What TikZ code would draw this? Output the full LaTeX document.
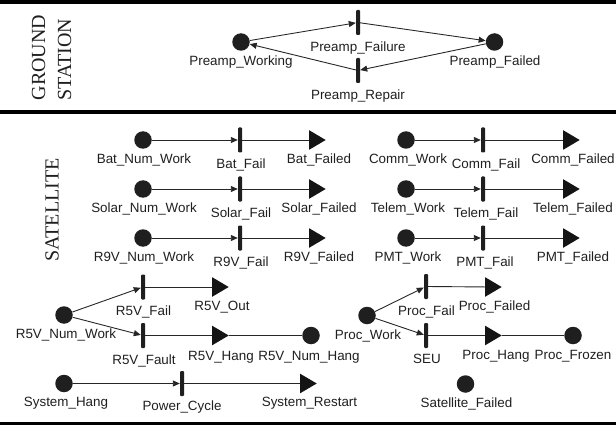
\documentclass[tikz,border=0pt]{standalone}
\usepackage{fontspec}
\setmainfont{Liberation Sans}
\newfontfamily\serifgs{Liberation Serif}
\usetikzlibrary{arrows.meta,shapes.geometric}
\begin{document}
\begin{tikzpicture}[x=1pt,y=-1pt,
  place/.style={circle,fill=black!88,inner sep=0,minimum size=17.5pt},
  trans/.style={rectangle,fill=black!88,inner sep=0,minimum width=4pt,minimum height=25pt,rounded corners=1pt},
  outp/.style={isosceles triangle,isosceles triangle stretches,fill=black!92,inner sep=0,minimum width=19.5pt,minimum height=16.5pt,anchor=west},
  lbl/.style={anchor=base,inner sep=0,font=\fontsize{13.4}{14}\selectfont,text=black!88},
  title/.style={anchor=base,inner sep=0,rotate=90,font=\serifgs\fontsize{20}{20}\selectfont,text=black!88},
  arc/.style={draw=black!85,line width=0.9pt},
  arr/.style={arc,-{Triangle[length=7pt,width=6pt]}},
  sep/.style={line width=4pt}]
\useasboundingbox (0,0) rectangle (616,425);
% separators
\draw[sep] (0,2) -- (616,2);
\draw[sep] (0,112.5) -- (616,112.5);
\draw[sep] (0,423.5) -- (616,423.5);
% titles
\node[title] (gs1) at (45,57.5) {GROUND};
\node[title] (gs2) at (71,59.5) {STATION};
\node[title] (sat) at (58.5,210) {SATELLITE};
% ground station
\node[place] (pw) at (241,42) {};
\node[place] (pfd) at (494.5,42) {};
\node[trans] (pfl) at (358,22.5) {};
\node[trans] (prp) at (358,70.5) {};
\draw[arr] (pw) -- (pfl);
\draw[arr] (pfl) -- (pfd);
\draw[arr] (pfd) -- (prp);
\draw[arr] (prp) -- (pw);
\node[lbl] (pwl) at (241,65.5) {Preamp\_Working};
\node[lbl] (pfll) at (358,51.5) {Preamp\_Failure};
\node[lbl] (prpl) at (358,99.5) {Preamp\_Repair};
\node[lbl] (pfdl) at (495,65.5) {Preamp\_Failed};
% row 1
\node[place] (bnw) at (143,140) {};
\node[trans] (bfl) at (240,140) {};
\node[outp] (bfd) at (309,140) {};
\draw[arr] (bnw) -- (bfl);
\draw[arc] (bfl) -- (bfd);
\node[lbl] (bnwl) at (144,163.5) {Bat\_Num\_Work};
\node[lbl] (bfll) at (241,168) {Bat\_Fail};
\node[lbl] (bfdl) at (319,163.5) {Bat\_Failed};
\node[place] (cw) at (406,140) {};
\node[trans] (cfl) at (483,140) {};
\node[outp] (cfd) at (563,140) {};
\draw[arr] (cw) -- (cfl);
\draw[arc] (cfl) -- (cfd);
\node[lbl] (cwl) at (408,163.5) {Comm\_Work};
\node[lbl] (cfll) at (486,168) {Comm\_Fail};
\node[lbl] (cfdl) at (573,163.5) {Comm\_Failed};
% row 2
\node[place] (snw) at (143,189) {};
\node[trans] (sfl) at (240,189) {};
\node[outp] (sfd) at (309,189) {};
\draw[arr] (snw) -- (sfl);
\draw[arc] (sfl) -- (sfd);
\node[lbl] (snwl) at (144,212.5) {Solar\_Num\_Work};
\node[lbl] (sfll) at (241,217) {Solar\_Fail};
\node[lbl] (sfdl) at (319,212.5) {Solar\_Failed};
\node[place] (tw) at (406,189) {};
\node[trans] (tfl) at (483,189) {};
\node[outp] (tfd) at (563,189) {};
\draw[arr] (tw) -- (tfl);
\draw[arc] (tfl) -- (tfd);
\node[lbl] (twl) at (408,212.5) {Telem\_Work};
\node[lbl] (tfll) at (486,217) {Telem\_Fail};
\node[lbl] (tfdl) at (573,212.5) {Telem\_Failed};
% row 3
\node[place] (rnw) at (143,238) {};
\node[trans] (rfl) at (240,238) {};
\node[outp] (rfd) at (309,238) {};
\draw[arr] (rnw) -- (rfl);
\draw[arc] (rfl) -- (rfd);
\node[lbl] (rnwl) at (144,261.5) {R9V\_Num\_Work};
\node[lbl] (rfll) at (241,266) {R9V\_Fail};
\node[lbl] (rfdl) at (319,261.5) {R9V\_Failed};
\node[place] (mw) at (406,238) {};
\node[trans] (mfl) at (483,238) {};
\node[outp] (mfd) at (563,238) {};
\draw[arr] (mw) -- (mfl);
\draw[arc] (mfl) -- (mfd);
\node[lbl] (mwl) at (408,261.5) {PMT\_Work};
\node[lbl] (mfll) at (485,266) {PMT\_Fail};
\node[lbl] (mfdl) at (573,261.5) {PMT\_Failed};
% R5V
\node[place] (r5w) at (64,315) {};
\node[trans] (r5f) at (143,287) {};
\node[trans] (r5t) at (143,335.5) {};
\node[outp] (r5o) at (212,287) {};
\node[outp] (r5h) at (212,335.5) {};
\node[place] (r5nh) at (311,335.5) {};
\draw[arr] (r5w) -- (r5f);
\draw[arr] (r5w) -- (r5t);
\draw[arc] (r5f) -- (r5o);
\draw[arc] (r5t) -- (r5h);
\draw[arc] (r5h) -- (r5nh);
\node[lbl] (r5fl) at (143.5,315) {R5V\_Fail};
\node[lbl] (r5ol) at (222,310.5) {R5V\_Out};
\node[lbl] (r5wl) at (66,338.5) {R5V\_Num\_Work};
\node[lbl] (r5tl) at (144,364) {R5V\_Fault};
\node[lbl] (r5hl) at (221,360) {R5V\_Hang};
\node[lbl] (r5nhl) at (309,360) {R5V\_Num\_Hang};
% system
\node[place] (sh) at (64,383.5) {};
\node[trans] (pc) at (182,383.5) {};
\node[outp] (sr) at (300,383.5) {};
\draw[arr] (sh) -- (pc);
\draw[arc] (pc) -- (sr);
\node[lbl] (shl) at (66,406.5) {System\_Hang};
\node[lbl] (pcl) at (182,410.5) {Power\_Cycle};
\node[lbl] (srl) at (309.5,406.5) {System\_Restart};
% proc
\node[place] (pwk) at (367,315.5) {};
\node[trans] (pfa) at (426,286.5) {};
\node[trans] (seu) at (426,335.5) {};
\node[outp] (pfdd) at (485,287) {};
\node[outp] (ph) at (485,335.5) {};
\node[place] (pfz) at (573,335.5) {};
\draw[arr] (pwk) -- (pfa);
\draw[arr] (pwk) -- (seu);
\draw[arc] (pfa) -- (pfdd);
\draw[arc] (seu) -- (ph);
\draw[arc] (ph) -- (pfz);
\node[lbl] (pfal) at (426.5,315) {Proc\_Fail};
\node[lbl] (pfddl) at (494.5,310) {Proc\_Failed};
\node[lbl] (pwkl) at (368,339) {Proc\_Work};
\node[lbl] (seul) at (427,363.5) {SEU};
\node[lbl] (phl) at (496,359.5) {Proc\_Hang};
\node[lbl] (pfzl) at (573,359.5) {Proc\_Frozen};
% satellite failed
\node[place] (sf) at (465.5,384) {};
\node[lbl] (sfl2) at (466.5,407) {Satellite\_Failed};
\end{tikzpicture}
\end{document}
